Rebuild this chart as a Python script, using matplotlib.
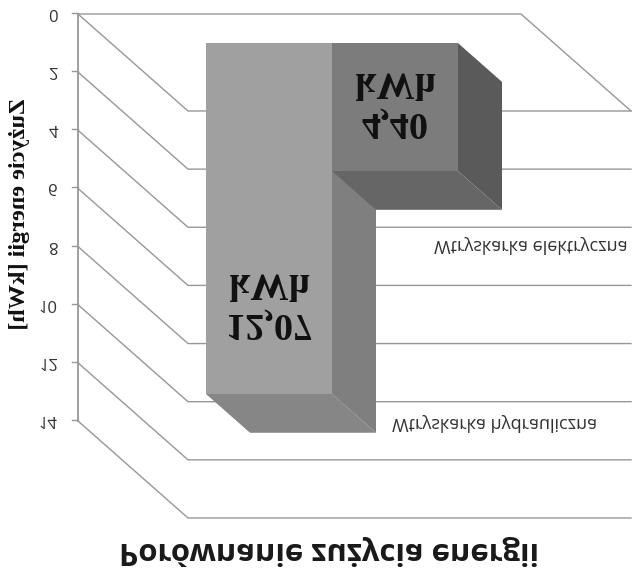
import matplotlib
matplotlib.use('Agg')
import matplotlib.pyplot as plt
import numpy as np
from matplotlib.patches import Polygon

# Chart data
categories = ['Wtryskarka hydrauliczna', 'Wtryskarka elektryczna']
values = [12.07, 4.40]
value_labels = ['12,07\nkWh', '4,40\nkWh']
y_ticks = [0, 2, 4, 6, 8, 10, 12, 14]

# Oblique projection of the 3D chart, in pixels / kWh
PX_PER_KWH = 29.07
WALL_W = 443.0
DEPTH_X = 110.0
DEPTH_Y = 97.0 / PX_PER_KWH
AXIS_X = 78.0
BAR_LEFT = 95.0
BAR_W = 126.0
LINE_COL = '#979797'


def proj(x, v, depth):
    return (AXIS_X + x + depth * DEPTH_X, v + depth * DEPTH_Y)


def row(y_px):
    # text rows are measured from the top of the finished picture
    return (y_px - 14) / PX_PER_KWH


def draw_bar(ax, left, value, front, side, top):
    d0, d1 = 0.3, 0.7
    r = left + BAR_W
    ax.add_patch(Polygon([proj(r, 0, d0), proj(r, 0, d1), proj(r, value, d1), proj(r, value, d0)],
                         fc=side, ec='none', zorder=3))
    ax.add_patch(Polygon([proj(left, value, d0), proj(r, value, d0), proj(r, value, d1), proj(left, value, d1)],
                         fc=top, ec='none', zorder=3))
    ax.add_patch(Polygon([proj(left, 0, d0), proj(r, 0, d0), proj(r, value, d0), proj(left, value, d0)],
                         fc=front, ec='none', zorder=3))


fig = plt.figure(figsize=(6.4, 5.75), dpi=100)
ax = fig.add_axes([0, 0, 1, 1])
ax.set_xlim(0, 640)
ax.set_ylim(-14 / PX_PER_KWH, (575 - 14) / PX_PER_KWH)
ax.axis('off')

# Gridlines on the side wall and back wall
for t in y_ticks:
    xs = [AXIS_X, proj(0, t, 1)[0], proj(WALL_W, t, 1)[0]]
    ys = [t, proj(0, t, 1)[1], proj(WALL_W, t, 1)[1]]
    ax.plot(xs, ys, color=LINE_COL, lw=1.0, zorder=1)
    ax.plot([AXIS_X - 6, AXIS_X], [t, t], color=LINE_COL, lw=1.0, zorder=1)
    ax.text(AXIS_X - 20, t, str(t), ha='right', va='center', fontsize=12,
            color='#333333', family='Open Sans')

# Frame of the base
ax.plot([AXIS_X, AXIS_X], [0, 14], color=LINE_COL, lw=1.3, zorder=2)
ax.plot([AXIS_X, AXIS_X + WALL_W, proj(WALL_W, 0, 1)[0]], [0, 0, proj(WALL_W, 0, 1)[1]],
        color=LINE_COL, lw=1.0, zorder=2)

# Bars, hydraulic first so the electric one sits over it
draw_bar(ax, BAR_LEFT, values[0], '#a0a0a0', '#7f7f7f', '#868686')
draw_bar(ax, BAR_LEFT + BAR_W, values[1], '#7c7c7c', '#5a5a5a', '#666666')

# Value labels
for i, (lab, y_px) in enumerate(zip(value_labels, [305, 104])):
    x, _ = proj(BAR_LEFT + BAR_W * (i + 0.5), 0, 0.3)
    ax.text(x, row(y_px), lab, ha='center', va='center', fontsize=27.5,
            fontweight='bold', family='Liberation Serif', color='#111111', linespacing=1.2, zorder=5)

# Category labels next to the bars
ax.text(597, row(424), categories[0], ha='right', va='center', fontsize=13,
        color='#333333', family='Open Sans')
ax.text(628, row(246), categories[1], ha='right', va='center', fontsize=13,
        color='#333333', family='Open Sans')

# Axis label and title
ax.text(20, row(216), 'Zużycie energii [kWh]', rotation=90, ha='center', va='center',
        fontsize=17.5, fontweight='bold', family='Liberation Serif', color='#111111')
ax.text(329, row(552), 'Porównanie zużycia energii', ha='center', va='center',
        fontsize=22.3, fontweight='bold', family='Open Sans', color='#1a1a1a')

# The source picture is upside down, so flip the rendered canvas before saving
fig.canvas.draw()
buf = np.asarray(fig.canvas.buffer_rgba())
plt.imsave('out.png', buf[::-1])
